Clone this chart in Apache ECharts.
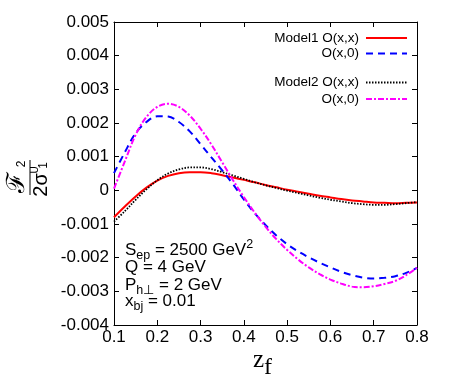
<!DOCTYPE html>
<html><head><meta charset="utf-8">
<script src="https://cdn.jsdelivr.net/npm/echarts@6/dist/echarts.min.js"></script>
<style>html,body{margin:0;padding:0;background:#fff}#c{width:450px;height:382px}</style>
</head><body><div id="c"></div>
<script>
const zValues = [0.1,0.125,0.15,0.175,0.2,0.225,0.25,0.275,0.3,0.325,0.35,0.375,0.4,0.425,0.45,0.475,0.5,0.525,0.55,0.575,0.6,0.625,0.65,0.675,0.7,0.725,0.75,0.775,0.8];
const model1XX = [-0.0008,-0.00048,-0.00018,0.00008,0.00029,0.00043,0.00051,0.00054,0.00054,0.00051,0.00045,0.00038,0.00031,0.00024,0.00016,0.00009,0.00002,-0.00004,-0.0001,-0.00016,-0.00021,-0.00026,-0.0003,-0.00033,-0.00036,-0.00037,-0.00038,-0.00037,-0.00036];
const model1X0 = [0.00051,0.00113,0.0017,0.00203,0.0022,0.00219,0.00203,0.00175,0.00137,0.00098,0.00059,0.00018,-0.00027,-0.00068,-0.00103,-0.00134,-0.0016,-0.00181,-0.00199,-0.00215,-0.00229,-0.00242,-0.00252,-0.00259,-0.00262,-0.0026,-0.00255,-0.00245,-0.0023];
const model2XX = [-0.00093,-0.00062,-0.00028,0.00003,0.0003,0.0005,0.00062,0.00068,0.00068,0.00063,0.00054,0.00044,0.00034,0.00024,0.00015,0.00007,-0.00001,-0.00008,-0.00015,-0.00022,-0.00028,-0.00033,-0.00038,-0.00041,-0.00043,-0.00043,-0.00041,-0.00038,-0.00035];
const model2X0 = [0.00005,0.00086,0.00165,0.00218,0.00248,0.00257,0.00248,0.00222,0.00183,0.00136,0.00083,0.0003,-0.0002,-0.00066,-0.00108,-0.00145,-0.00177,-0.00205,-0.00229,-0.00249,-0.00265,-0.00277,-0.00286,-0.00288,-0.00285,-0.00278,-0.00269,-0.00252,-0.0023];
const xTickLabels = ['0.1','0.2','0.3','0.4','0.5','0.6','0.7','0.8'];
const yTickLabels = ['-0.004','-0.003','-0.002','-0.001','0','0.001','0.002','0.003','0.004','0.005'];
const legendNames = ['Model1 O(x,x)','O(x,0)','Model2 O(x,x)','O(x,0)'];

const SANS = '"Liberation Sans", Arial, sans-serif';
const SERIF = '"Liberation Serif", "Times New Roman", serif';
const cv = document.createElement('canvas').getContext('2d');
function mw(t, size, fam){ cv.font = size + 'px ' + fam; return cv.measureText(t).width; }
function frags(x, base, parts, fam){
  const out = []; let cx = x;
  parts.forEach(p => {
    const [t, s, dy] = p;
    out.push({type:'text', style:{text:t, x:cx, y:base + dy - 0.3*s, fontSize:s, fontFamily:fam, fill:'#000', textAlign:'left', textVerticalAlign:'middle'}});
    cx += mw(t, s, fam);
  });
  return out;
}
const zip = a => zValues.map((z,i)=>[z, a[i]]);

const chart = echarts.init(document.getElementById('c'), null, {renderer:'canvas'});
const axisCommon = {
  axisLine:{show:true, onZero:false, lineStyle:{color:'#000', width:1}},
  axisTick:{show:true, inside:true, length:5, lineStyle:{color:'#000', width:1}},
  splitLine:{show:false}
};
const lab = {color:'#000', fontSize:17, fontFamily:SANS};

const seriesDefs = [
  {name:legendNames[0], data:model1XX, color:'#ff0000', type:'solid', width:2},
  {name:legendNames[1], data:model1X0, color:'#0000ff', type:[7,5], width:2},
  {name:legendNames[2], data:model2XX, color:'#000000', type:[1.5,1.5], width:1.8},
  {name:legendNames[3], data:model2X0, color:'#ff00ff', type:[6,2,2,2], width:2}
];

const legendRows = [38, 53.5, 82.5, 99];
const legendGraphics = [];
seriesDefs.forEach((s,i)=>{
  legendGraphics.push({type:'text', style:{text:legendNames[i], x:359, y:legendRows[i], fontSize:13.5, fontFamily:SANS, fill:'#000', textAlign:'right', textVerticalAlign:'middle'}});
  legendGraphics.push({type:'line', shape:{x1:366, y1:legendRows[i], x2:407, y2:legendRows[i]}, style:{stroke:s.color, lineWidth:s.width, lineDash:s.type==='solid'?null:s.type}});
});

const annot = [].concat(
  frags(125, 255, [['S',17,0],['ep',12.5,4],[' = 2500 GeV',17,0],['2',12.5,-7]], SANS),
  frags(125, 272.5, [['Q = 4 GeV',17,0]], SANS),
  frags(125, 290, [['P',17,0],['h\u22a5',12.5,4],[' = 2 GeV',17,0]], SANS),
  frags(125, 306.5, [['x',17,0],['bj',12.5,4],[' = 0.01',17,0]], SANS)
);

const xTitle = [].concat(frags(253, 368, [['z',25,0],['f',24,7]], SERIF));

const yTitle = {
  type:'group', x:30, y:177.5, rotation:Math.PI/2,
  children:[
    {type:'line', shape:{x1:-17.5, y1:0, x2:17.5, y2:0}, style:{stroke:'#000', lineWidth:1}},
    {type:'text', style:{text:'\u2131', x:-5, y:-13, fontSize:25, fontFamily:'"DejaVu Serif", serif', fill:'#000', textAlign:'center', textVerticalAlign:'middle'}},
    {type:'text', style:{text:'2', x:13.5, y:-8, fontSize:12, fontFamily:SANS, fill:'#000', textAlign:'center', textVerticalAlign:'middle'}},
    {type:'text', style:{text:'2\u03c3', x:-7.5, y:11, fontSize:20, fontFamily:SANS, fill:'#000', textAlign:'center', textVerticalAlign:'middle'}},
    {type:'text', style:{text:'U', x:7.5, y:5, fontSize:10, fontFamily:SANS, fill:'#000', textAlign:'center', textVerticalAlign:'middle'}},
    {type:'text', style:{text:'1', x:12, y:14, fontSize:12, fontFamily:SANS, fill:'#000', textAlign:'center', textVerticalAlign:'middle'}}
  ]
};

chart.setOption({
  animation:false,
  backgroundColor:'#fff',
  grid:{left:114, right:33, top:22, bottom:57, containLabel:false},
  xAxis:[
    Object.assign({type:'value', min:0.1, max:0.8, interval:0.1, position:'bottom',
      axisLabel:Object.assign({margin:4, formatter:(v,i)=>xTickLabels[i] !== undefined ? xTickLabels[i] : v.toFixed(1)}, lab)}, axisCommon),
    Object.assign({type:'value', min:0.1, max:0.8, interval:0.1, position:'top', axisLabel:{show:false}}, axisCommon)
  ],
  yAxis:[
    Object.assign({type:'value', min:-0.004, max:0.005, interval:0.001, position:'left',
      axisLabel:Object.assign({margin:5, formatter:(v,i)=>yTickLabels[i] !== undefined ? yTickLabels[i] : String(v)}, lab)}, axisCommon),
    Object.assign({type:'value', min:-0.004, max:0.005, interval:0.001, position:'right', axisLabel:{show:false}}, axisCommon)
  ],
  series: seriesDefs.map(s=>({
    name:s.name, type:'line', data:zip(s.data), smooth:0.35, showSymbol:false, symbol:'none',
    clip:true, lineStyle:{color:s.color, width:s.width, type:s.type}, z: 2
  })),
  graphic:[].concat(legendGraphics, annot, xTitle, [yTitle])
});
</script></body></html>
